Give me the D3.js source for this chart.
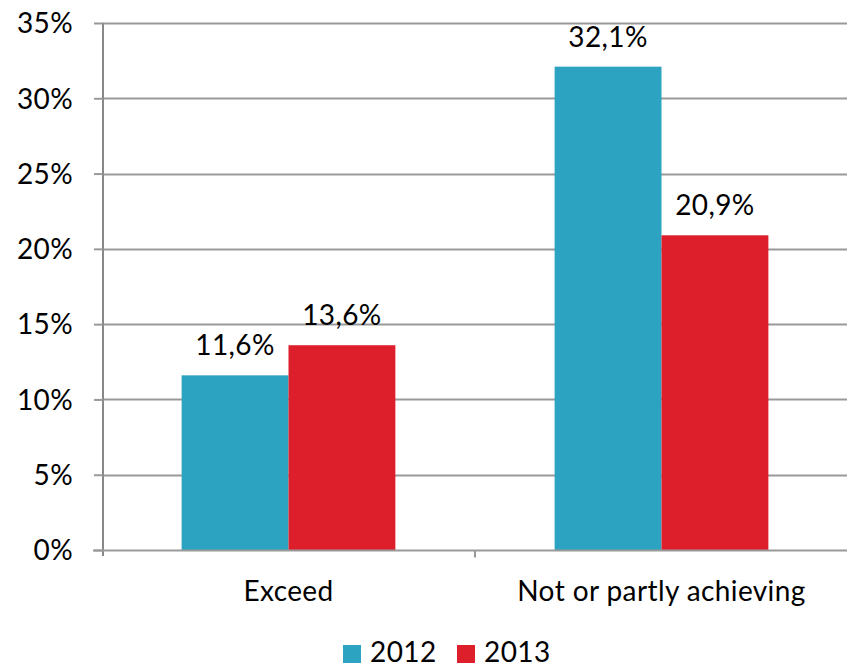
<!DOCTYPE html>
<html>
<head>
<meta charset="utf-8">
<script src="https://cdn.jsdelivr.net/npm/d3@7"></script>
<style>
  html, body { margin: 0; padding: 0; background: #fff; }
  svg text { font-family: Lato, "Open Sans", sans-serif; fill: #000; letter-spacing: 0.4px; }
</style>
</head>
<body>
<svg id="chart" width="847" height="667"></svg>
<script>
const categories = ["Exceed", "Not or partly achieving"];
const seriesNames = ["2012", "2013"];
const values2012 = [11.6, 32.1];
const values2013 = [13.6, 20.9];
const yTicks = [0, 5, 10, 15, 20, 25, 30, 35];
const colors = ["#2ca3c0", "#dc1f2a"];

const svg = d3.select("#chart");
const margin = { left: 102, right: 0, top: 23, bottom: 117 };
const W = 847, H = 667;
const plotH = H - margin.top - margin.bottom;
const FS = 28;

const x = d3.scaleBand().domain(categories).range([margin.left, margin.left + 746]).paddingInner(0).paddingOuter(0);
const xSub = d3.scaleBand().domain(seriesNames).range([0, x.bandwidth()]).paddingOuter(0.745).paddingInner(0);
const y = d3.scaleLinear().domain([0, 35]).range([margin.top + plotH, margin.top]);

const fmt = v => v.toFixed(1).replace(".", ",") + "%";

// gridlines
svg.append("g").selectAll("line").data(yTicks.filter(t => t > 0)).join("line")
  .attr("x1", margin.left).attr("x2", W)
  .attr("y1", d => Math.round(y(d)) + 0.5).attr("y2", d => Math.round(y(d)) + 0.5)
  .attr("stroke", "#999").attr("stroke-width", 2);

// bars and value labels
const series = [values2012, values2013];
const groups = svg.append("g");
series.forEach((vals, si) => {
  groups.append("g").selectAll("rect").data(categories).join("rect")
    .attr("x", (c) => x(c) + xSub(seriesNames[si]))
    .attr("width", xSub.bandwidth())
    .attr("y", (c, i) => y(vals[i]))
    .attr("height", (c, i) => y(0) - y(vals[i]))
    .attr("fill", colors[si]);
  groups.append("g").selectAll("text").data(categories).join("text")
    .attr("x", (c) => x(c) + xSub(seriesNames[si]) + xSub.bandwidth() / 2)
    .attr("y", (c, i) => y(vals[i]) - 20)
    .attr("text-anchor", "middle")
    .attr("font-size", FS)
    .text((c, i) => fmt(vals[i]));
});

// y axis
const yAxis = d3.axisLeft(y).tickValues(yTicks).tickFormat(d => d + "%").tickSize(9).tickPadding(21);
const gy = svg.append("g").attr("transform", `translate(${margin.left + 1},0)`).call(yAxis);
gy.select(".domain").attr("stroke", "#888").attr("stroke-width", 2).attr("d", `M0,${y(35)}V${y(0) + 6}`);
gy.selectAll(".tick line").attr("stroke", "#999").attr("stroke-width", 2);
gy.selectAll(".tick text").attr("font-size", FS).attr("font-family", "Lato, 'Open Sans', sans-serif").attr("dy", "0.35em");

// x axis
const baseY = Math.round(y(0)) + 0.5;
svg.append("line").attr("x1", margin.left - 9).attr("x2", W).attr("y1", baseY).attr("y2", baseY)
  .attr("stroke", "#999").attr("stroke-width", 2);
const xTicks = [x(categories[1])];
svg.append("g").selectAll("line").data(xTicks).join("line")
  .attr("x1", d => d).attr("x2", d => d).attr("y1", baseY).attr("y2", baseY + 7)
  .attr("stroke", "#999").attr("stroke-width", 2);
svg.append("g").selectAll("text").data(categories).join("text")
  .attr("x", c => x(c) + x.bandwidth() / 2)
  .attr("y", 601)
  .attr("text-anchor", "middle")
  .attr("font-size", FS)
  .text(c => c);

// legend
const legend = svg.append("g");
const legendX = [343, 457];
seriesNames.forEach((s, i) => {
  legend.append("rect").attr("x", legendX[i]).attr("y", 645).attr("width", 18).attr("height", 18).attr("fill", colors[i]);
  legend.append("text").attr("x", legendX[i] + 27).attr("y", 662).attr("font-size", FS).text(s);
});
</script>
</body>
</html>
